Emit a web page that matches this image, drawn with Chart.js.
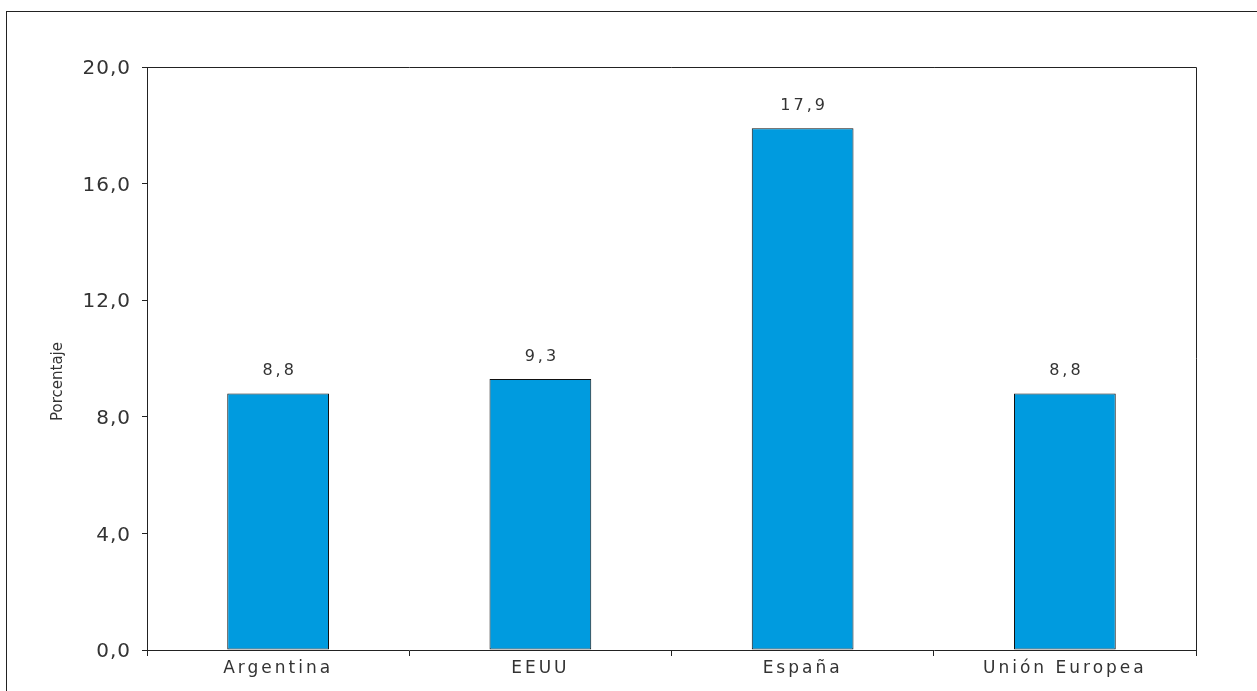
<!DOCTYPE html>
<html>
<head>
<meta charset="utf-8">
<script src="https://cdn.jsdelivr.net/npm/chart.js@4"></script>
<style>
  html, body { margin: 0; padding: 0; background: #fff; }
  canvas { display: block; }
</style>
</head>
<body>
<canvas id="chart" width="1257" height="691"></canvas>
<script>
const categories = ["Argentina", "EEUU", "España", "Unión Europea"];
const values = [8.8, 9.3, 17.9, 8.8];
const yTicks = [0, 4, 8, 12, 16, 20];
const yTitle = "Porcentaje";

const fmt = v => v.toFixed(1).replace(".", ",");

const framePlugin = {
    id: "frame",
    beforeDraw(chart) {
        const c = chart.ctx;
        c.save();
        c.fillStyle = "#fff";
        c.fillRect(0, 0, chart.width, chart.height);
        c.strokeStyle = "#222";
        c.lineWidth = 1;
        c.strokeRect(6.5, 11.5, chart.width + 20, chart.height + 20);
        c.restore();
        c.letterSpacing = "1px";
    },
    afterDatasetsDraw(chart) {
        const c = chart.ctx;
        const a = chart.chartArea;
        c.save();
        c.strokeStyle = "#222";
        c.lineWidth = 1;
        c.beginPath();
        c.moveTo(a.left, Math.round(a.top) + 0.5);
        c.lineTo(Math.round(a.right) + 0.5, Math.round(a.top) + 0.5);
        c.lineTo(Math.round(a.right) + 0.5, a.bottom);
        c.stroke();
        c.restore();

        // y axis title, sitting a bit below the middle like the original
        c.save();
        c.font = '15px "DejaVu Sans"';
        c.fillStyle = "#333";
        c.letterSpacing = "0px";
        c.textAlign = "center";
        c.textBaseline = "middle";
        c.translate(58, (a.top + a.bottom) / 2 + 23);
        c.rotate(-Math.PI / 2);
        c.fillText(yTitle, 0, 0);
        c.restore();

        // value labels above the bars
        const meta = chart.getDatasetMeta(0);
        c.save();
        c.font = '16px "DejaVu Sans"';
        c.fillStyle = "#333";
        c.textAlign = "center";
        c.textBaseline = "alphabetic";
        c.letterSpacing = "3px";
        meta.data.forEach((bar, i) => {
            c.fillText(fmt(values[i]), bar.x + 1.5, bar.y - 18);
        });
        c.restore();
        // spaced lettering for the category labels drawn after this
        c.letterSpacing = "3px";
    }
};

new Chart(document.getElementById("chart"), {
    type: "bar",
    data: {
        labels: categories,
        datasets: [{
            data: values,
            backgroundColor: "#009BDF",
            borderColor: "#111",
            borderWidth: 1,
            borderSkipped: false,
            categoryPercentage: 1,
            barPercentage: 0.388
        }]
    },
    options: {
        responsive: false,
        animation: false,
        devicePixelRatio: 1,
        layout: { padding: { left: 0, top: 67, right: 61, bottom: 0 } },
        plugins: {
            legend: { display: false },
            tooltip: { enabled: false }
        },
        scales: {
            x: {
                afterFit: s => { s.height = 41; },
                grid: {
                    display: true,
                    drawOnChartArea: false,
                    offset: true,
                    tickLength: 6,
                    color: "#222"
                },
                border: { display: true, color: "#222" },
                ticks: {
                    z: 1,
                    color: "#333",
                    padding: 2,
                    maxRotation: 0,
                    autoSkip: false,
                    font: { family: "DejaVu Sans", size: 17 }
                }
            },
            y: {
                min: 0,
                max: 20,
                afterFit: s => { s.width = 147; },
                afterBuildTicks: s => { s.ticks = yTicks.map(v => ({ value: v })); },
                grid: {
                    display: true,
                    drawOnChartArea: false,
                    tickLength: 5,
                    color: "#222"
                },
                border: { display: true, color: "#222" },
                ticks: {
                    color: "#333",
                    padding: 11,
                    labelOffset: 2,
                    font: { family: "DejaVu Sans", size: 20 },
                    callback: v => fmt(v)
                },
                title: { display: false }
            }
        }
    },
    plugins: [framePlugin]
});
</script>
</body>
</html>
